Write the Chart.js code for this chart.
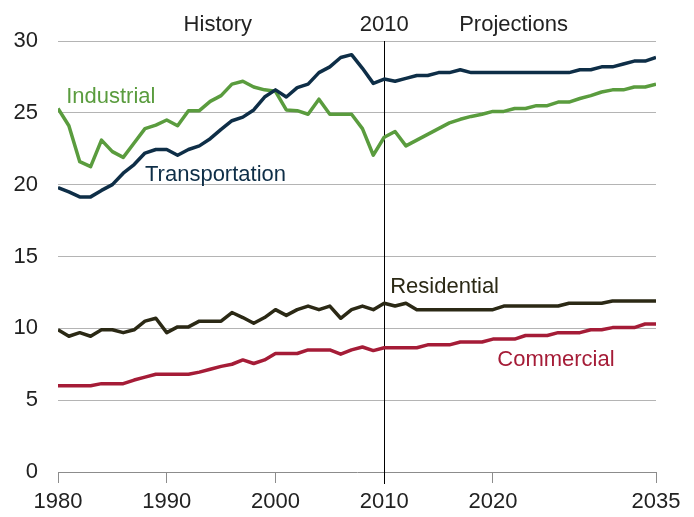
<!DOCTYPE html>
<html>
<head>
<meta charset="utf-8">
<script src="https://cdn.jsdelivr.net/npm/chart.js@4"></script>
<style>
  html, body { margin: 0; padding: 0; background: #fff; }
  #wrap { width: 694px; height: 517px; }
</style>
</head>
<body>
<div id="wrap"><canvas id="chart" width="694" height="517"></canvas></div>
<script>
// years 1980..2035
const years = []
for (let y = 1980; y <= 2035; y++) years.push(y)

const transportation = [19.8, 19.5, 19.15, 19.15, 19.6, 20.0, 20.8, 21.4, 22.2, 22.45,
  22.45, 22.05, 22.45, 22.7, 23.2, 23.85, 24.45, 24.7, 25.2, 26.1,
  26.6, 26.1, 26.75, 27.0, 27.8, 28.2, 28.85, 29.05, 28.1, 27.05,
  27.35, 27.2, 27.4, 27.6, 27.6, 27.8, 27.8, 28.0, 27.8, 27.8,
  27.8, 27.8, 27.8, 27.8, 27.8, 27.8, 27.8, 27.8, 28.0, 28.0,
  28.2, 28.2, 28.4, 28.6, 28.6, 28.85]

const industrial = [25.3, 24.1, 21.6, 21.25, 23.1, 22.3, 21.9, 22.9, 23.9, 24.15,
  24.5, 24.1, 25.15, 25.15, 25.8, 26.2, 27.0, 27.2, 26.8, 26.6,
  26.5, 25.2, 25.15, 24.9, 25.95, 24.9, 24.9, 24.9, 23.9, 22.05,
  23.3, 23.7, 22.7, 23.1, 23.5, 23.9, 24.3, 24.55, 24.75, 24.9,
  25.1, 25.1, 25.3, 25.3, 25.5, 25.5, 25.75, 25.75, 26.0, 26.2,
  26.45, 26.6, 26.6, 26.8, 26.8, 27.0]

const residential = [9.9, 9.45, 9.7, 9.45, 9.9, 9.9, 9.7, 9.9, 10.5, 10.7,
  9.7, 10.1, 10.1, 10.5, 10.5, 10.5, 11.1, 10.75, 10.35, 10.75,
  11.3, 10.9, 11.3, 11.55, 11.3, 11.55, 10.7, 11.3, 11.55, 11.3,
  11.75, 11.55, 11.75, 11.3, 11.3, 11.3, 11.3, 11.3, 11.3, 11.3,
  11.3, 11.55, 11.55, 11.55, 11.55, 11.55, 11.55, 11.75, 11.75, 11.75,
  11.75, 11.9, 11.9, 11.9, 11.9, 11.9]

const commercial = [6.0, 6.0, 6.0, 6.0, 6.15, 6.15, 6.15, 6.4, 6.6, 6.8,
  6.8, 6.8, 6.8, 6.95, 7.15, 7.35, 7.5, 7.8, 7.55, 7.8,
  8.25, 8.25, 8.25, 8.5, 8.5, 8.5, 8.2, 8.5, 8.7, 8.45,
  8.65, 8.65, 8.65, 8.65, 8.85, 8.85, 8.85, 9.05, 9.05, 9.05,
  9.25, 9.25, 9.25, 9.5, 9.5, 9.5, 9.7, 9.7, 9.7, 9.9,
  9.9, 10.05, 10.05, 10.05, 10.3, 10.3]

const xTicks = [1980, 1990, 2000, 2010, 2020, 2035]
const yTicks = [0, 5, 10, 15, 20, 25, 30]

const colors = {
  industrial: "#5a9c3e",
  transportation: "#0e2e47",
  residential: "#2b2915",
  commercial: "#a51c37",
}

// text labels placed in data units: [text, year, value, align, color]
const labels = [
  ["Industrial", 1980.75, 26.1, "left", colors.industrial],
  ["Transportation", 1988.0, 20.7, "left", colors.transportation],
  ["Residential", 2010.55, 12.85, "left", colors.residential],
  ["Commercial", 2020.4, 7.8, "left", colors.commercial],
  ["History", 1994.7, 31.1, "center", "#222"],
  ["2010", 2010, 31.1, "center", "#222"],
  ["Projections", 2021.9, 31.1, "center", "#222"],
]

const FONT = "'Liberation Sans', Arial, sans-serif"

function series(label, data, color) {
  return {
    label: label,
    data: years.map((y, i) => ({ x: y, y: data[i] })),
    borderColor: color,
    backgroundColor: color,
    borderWidth: 3.5,
    pointRadius: 0,
    tension: 0,
    borderJoinStyle: "round",
  }
}

const overlay = {
  id: "overlay",
  beforeDatasetsDraw(chart) {
    const ctx = chart.ctx
    const x = chart.scales.x, y = chart.scales.y
    const px = Math.round(x.getPixelForValue(2010)) + 0.5
    ctx.save()
    ctx.strokeStyle = "#000"
    ctx.lineWidth = 1
    ctx.beginPath()
    ctx.moveTo(px, y.getPixelForValue(30))
    ctx.lineTo(px, y.getPixelForValue(0) + 12)
    ctx.stroke()
    ctx.restore()
  },
  afterDatasetsDraw(chart) {
    const ctx = chart.ctx
    const x = chart.scales.x, y = chart.scales.y
    ctx.save()
    ctx.font = "22px " + FONT
    ctx.textBaseline = "middle"
    labels.forEach(l => {
      ctx.fillStyle = l[4]
      ctx.textAlign = l[3]
      ctx.fillText(l[0], x.getPixelForValue(l[1]), y.getPixelForValue(l[2]))
    })
    ctx.restore()
  }
}

const config = {
  type: "line",
  data: {
    datasets: [
      series("Transportation", transportation, colors.transportation),
      series("Industrial", industrial, colors.industrial),
      series("Residential", residential, colors.residential),
      series("Commercial", commercial, colors.commercial),
    ],
  },
  options: {
    responsive: false,
    animation: false,
    layout: { padding: { top: 41, right: 38, left: 0, bottom: 0 } },
    plugins: { legend: { display: false }, tooltip: { enabled: false } },
    scales: {
      x: {
        type: "linear",
        min: 1980,
        max: 2035,
        afterBuildTicks: s => { s.ticks = xTicks.map(v => ({ value: v })) },
        afterFit: s => { s.height = 45 },
        grid: { drawOnChartArea: false, drawTicks: true, tickLength: 11, tickColor: "#8c8c8c", lineWidth: 1 },
        border: { display: true, color: "#8c8c8c", width: 1 },
        ticks: {
          color: "#222", font: { family: FONT, size: 22 }, padding: 6, maxRotation: 0, autoSkip: false,
          callback: v => String(v),
        },
      },
      y: {
        min: 0,
        max: 30,
        afterBuildTicks: s => { s.ticks = yTicks.map(v => ({ value: v })) },
        afterFit: s => { s.width = 58 },
        grid: { color: c => c.tick.value === 0 ? "rgba(0,0,0,0)" : "#b4b4b4", drawTicks: false, lineWidth: 1 },
        border: { display: false },
        ticks: { color: "#222", font: { family: FONT, size: 22 }, padding: 20, callback: v => String(v) },
      },
    },
  },
  plugins: [overlay],
}

new Chart(document.getElementById("chart"), config)
</script>
</body>
</html>
